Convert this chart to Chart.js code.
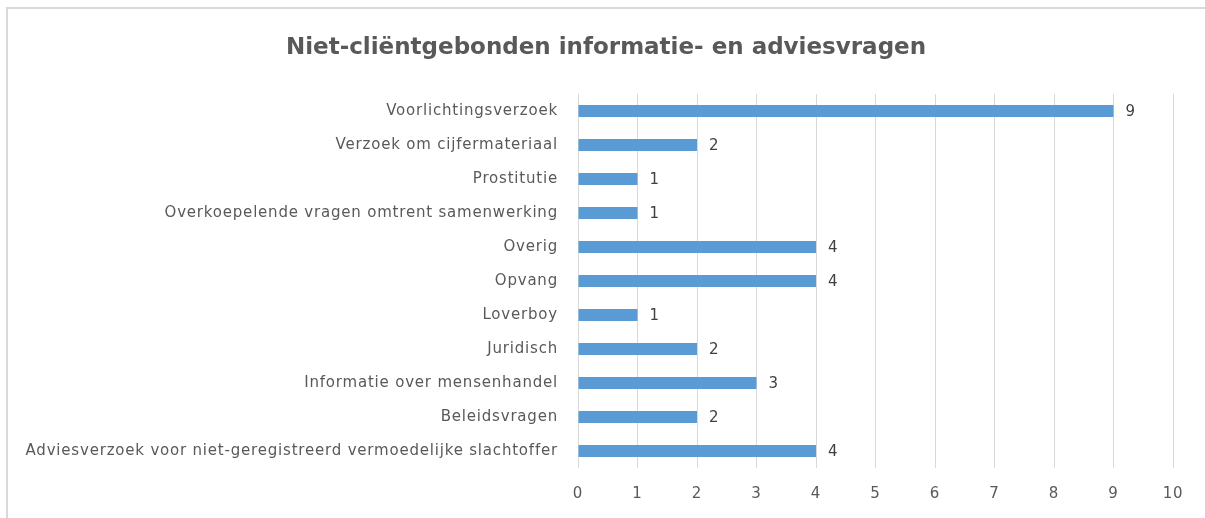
<!DOCTYPE html>
<html>
<head>
<meta charset="utf-8">
<script src="https://cdn.jsdelivr.net/npm/chart.js@4"></script>
<style>
  html, body { margin: 0; padding: 0; background: #fff; overflow: hidden; }
</style>
</head>
<body>
<canvas id="myChart" width="1205" height="518"></canvas>
<script>
const categories = [
  'Voorlichtingsverzoek',
  'Verzoek om cijfermateriaal',
  'Prostitutie',
  'Overkoepelende vragen omtrent samenwerking',
  'Overig',
  'Opvang',
  'Loverboy',
  'Juridisch',
  'Informatie over mensenhandel',
  'Beleidsvragen',
  'Adviesverzoek voor niet-geregistreerd vermoedelijke slachtoffer'
];
const values = [9, 2, 1, 1, 4, 4, 1, 2, 3, 2, 4];
const axisMin = 0;
const axisMax = 10;
const chartTitle = 'Niet-cliëntgebonden informatie- en adviesvragen';

const fontFamily = '"DejaVu Sans", sans-serif';
const textColor = '#595959';
const spacing = '0.8px';

// looser letter spacing, like the office font of the original; frame + title
const looseText = {
  id: 'looseText',
  beforeLayout(chart) { chart.ctx.letterSpacing = spacing; },
  beforeDraw(chart) {
    const ctx = chart.ctx;
    ctx.save();
    ctx.strokeStyle = '#d9d9d9';
    ctx.lineWidth = 2;
    ctx.beginPath();
    ctx.moveTo(7, chart.height);
    ctx.lineTo(7, 8);
    ctx.lineTo(chart.width, 8);
    ctx.stroke();

    ctx.letterSpacing = '0px';
    ctx.font = 'bold 23px ' + fontFamily;
    ctx.fillStyle = textColor;
    ctx.textAlign = 'center';
    ctx.textBaseline = 'middle';
    ctx.fillText(chartTitle, 606, 48);
    ctx.restore();
    ctx.letterSpacing = spacing;
  }
};

// draw the value next to the end of each bar
const valueLabels = {
  id: 'valueLabels',
  afterDatasetsDraw(chart) {
    const ctx = chart.ctx;
    const meta = chart.getDatasetMeta(0);
    ctx.save();
    ctx.font = '15px ' + fontFamily;
    ctx.fillStyle = '#404040';
    ctx.textAlign = 'left';
    ctx.textBaseline = 'middle';
    meta.data.forEach(function (bar, i) {
      ctx.fillText(values[i], bar.x + 12, bar.y + 1);
    });
    ctx.restore();
  }
};

var ctx = document.getElementById('myChart');
var myChart = new Chart(ctx, {
  type: 'bar',
  data: {
    labels: categories,
    datasets: [{
      data: values,
      backgroundColor: '#5b9bd5',
      borderWidth: 0,
      categoryPercentage: 1,
      barPercentage: 0.36
    }]
  },
  options: {
    indexAxis: 'y',
    responsive: false,
    animation: false,
    layout: { padding: { left: 0, right: 32, top: 94, bottom: 0 } },
    plugins: {
      legend: { display: false },
      tooltip: { enabled: false },
      title: { display: false }
    },
    scales: {
      x: {
        min: axisMin,
        max: axisMax,
        ticks: { stepSize: 1, color: textColor, padding: 17, font: { family: fontFamily, size: 15 } },
        grid: { color: '#d9d9d9', lineWidth: 1, drawTicks: false },
        border: { display: false },
        afterFit: function (scale) { scale.height = 50; }
      },
      y: {
        ticks: { color: textColor, padding: 20, font: { family: fontFamily, size: 15 } },
        grid: { display: false, drawTicks: false },
        border: { display: false },
        afterFit: function (scale) { scale.width = 578; }
      }
    }
  },
  plugins: [looseText, valueLabels]
});
</script>
</body>
</html>
